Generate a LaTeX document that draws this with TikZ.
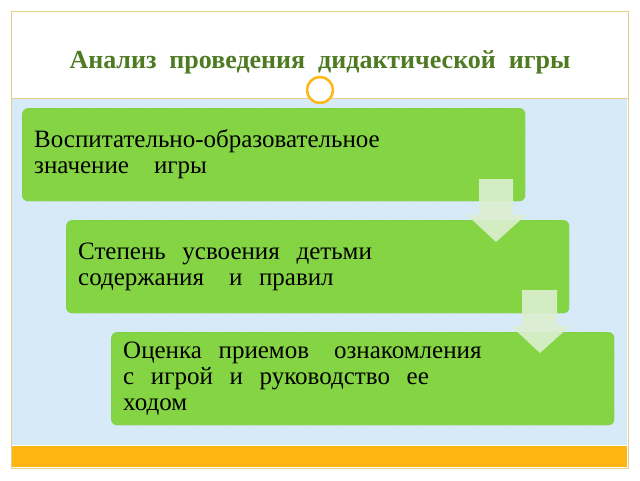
\documentclass[tikz,border=0pt]{standalone}
\usepackage{fontspec}
\setmainfont{Liberation Serif}
\usepackage{xcolor}
\usetikzlibrary{positioning}
\definecolor{boxgreen}{HTML}{84D444}
\definecolor{paleblue}{HTML}{D6EAF8}
\definecolor{framegold}{HTML}{E3D08E}
\definecolor{barorange}{HTML}{FFB612}
\definecolor{titlegreen}{HTML}{4E7A22}
\definecolor{arrowpale}{HTML}{DCEFD0}
\begin{document}
\begin{tikzpicture}[x=1pt,y=-1pt,
  stepbox/.style={fill=boxgreen,draw=boxgreen!85!black,densely dotted,rounded corners=6pt,anchor=north west,
    minimum height=93pt,text width=479pt,align=left,inner xsep=12pt,inner ysep=4pt,font=\fontsize{25}{26}\selectfont},
  downarrow/.style={fill=arrowpale,opacity=.9,draw=none}]

%% background
\useasboundingbox (0,0) rectangle (640,480);
\fill[white] (0,0) rectangle (640,480);
\fill[paleblue] (12,98) rectangle (627,445);
\fill[barorange] (12,446) rectangle (627,467);
\draw[framegold,line width=1pt] (11,11) rectangle (628,468);
\draw[framegold,line width=.8pt] (11,98) -- (628,98);

%% title
\node[font=\fontsize{26}{28}\selectfont\bfseries,text=titlegreen] (title) at (320,62) {Анализ \ проведения \ дидактической \ игры};
\node[circle,draw=barorange,fill=white,line width=2.5pt,minimum size=26pt,inner sep=0pt] (ring) at (320,90) {};

%% boxes
\node[stepbox] (s1) at (22,108) {Воспитательно-образовательное\\значение \ \ игры};
\node[stepbox] (s2) at (66,220) {Степень \ усвоения \ детьми\\содержания \ \ и \ правил};
\node[stepbox] (s3) at (111,332) {Оценка \ приемов \ \ ознакомления\\с \ игрой \ и \ руководство \ ее\\ходом};

%% arrows
\fill[downarrow] (479,179) -- (513,179) -- (513,215) -- (526,215) -- (496,242) -- (467,215) -- (479,215) -- cycle;
\fill[downarrow] (522,290) -- (557,290) -- (557,326) -- (570,326) -- (540,353) -- (511,326) -- (522,326) -- cycle;
\end{tikzpicture}
\end{document}
